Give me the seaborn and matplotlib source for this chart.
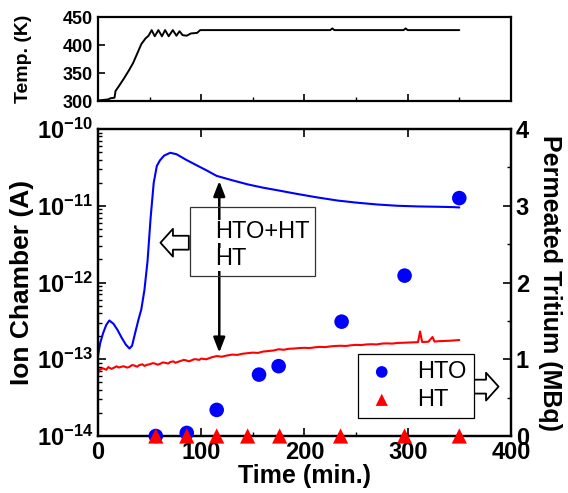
import numpy as np
import pandas as pd
import seaborn as sns
import matplotlib.pyplot as plt
from matplotlib.patches import Rectangle
from matplotlib.ticker import LogLocator, MultipleLocator, FuncFormatter, NullFormatter

# temperature trace (top panel)
temp_time = [0, 5, 10, 12, 16, 17, 20, 25, 30, 34, 38, 42, 46, 49, 52, 55, 58.5, 62, 65,
             68.5, 72.5, 76, 79, 82, 86, 90, 96, 99, 150, 225, 227, 229, 296, 298, 300, 350]
temp_k = [301, 302, 303, 305, 306, 318, 326, 340, 355, 368, 385, 402, 412, 417, 427, 416, 427,
          416, 427, 416, 427, 417, 425, 418, 417, 421, 422, 427, 427, 427, 430, 427, 427, 430, 427, 427]

# ion chamber HTO+HT (blue)
blue_time = [0, 2, 5, 8, 11, 15, 19, 23, 27, 30.5, 33, 36, 39, 42, 45, 48, 51, 54, 57, 60, 64,
             70, 76, 85, 95, 105, 115, 130, 145, 160, 173, 190, 210, 232, 250, 270, 290, 310,
             330, 345, 350]
blue_ion = [1.1e-13, 1.6e-13, 2.2e-13, 2.8e-13, 3.2e-13, 2.9e-13, 2.4e-13, 1.9e-13, 1.55e-13,
            1.38e-13, 1.5e-13, 2.2e-13, 3.2e-13, 4.5e-13, 8e-13, 1.9e-12, 7e-12, 2.0e-11, 3.3e-11,
            3.9e-11, 4.5e-11, 4.9e-11, 4.7e-11, 4.0e-11, 3.4e-11, 2.9e-11, 2.45e-11, 2.15e-11,
            1.9e-11, 1.72e-11, 1.6e-11, 1.45e-11, 1.3e-11, 1.17e-11, 1.1e-11, 1.04e-11, 1.0e-11,
            9.8e-12, 9.7e-12, 9.6e-12, 9.5e-12]

# ion chamber HT (red)
red_time = [0, 2, 5, 8, 10, 13, 15, 18, 20, 23, 25, 28, 30, 33, 35, 38, 40, 43, 45, 48, 50,
            53, 55, 58, 60, 63, 65, 68, 70, 73, 75, 78, 80, 83, 85, 88, 90, 93, 95, 98, 100,
            105, 110, 115, 120, 125, 130, 135, 140, 145, 150, 155, 160, 165, 170, 175, 180,
            185, 190, 195, 200, 205, 210, 215, 220, 225, 230, 235, 240, 245, 250, 255, 260, 265,
            270, 275, 280, 285, 290, 295, 300, 305, 310, 312, 314, 320, 324, 326, 330, 335, 340,
            345, 350]
red_ion = [6.6e-14, 7.4e-14, 7.6e-14, 7.3e-14, 7.9e-14, 7.5e-14, 7.7e-14, 8.1e-14, 7.8e-14,
           8.0e-14, 8.1e-14, 7.8e-14, 7.9e-14, 8.4e-14, 8.3e-14, 8.0e-14, 8.4e-14, 8.6e-14,
           8.2e-14, 8.5e-14, 8.6e-14, 8.9e-14, 8.8e-14, 8.5e-14, 8.7e-14, 9.1e-14, 9.0e-14,
           8.8e-14, 9.2e-14, 9.4e-14, 9.0e-14, 9.3e-14, 9.5e-14, 9.8e-14, 9.7e-14, 9.4e-14,
           9.6e-14, 1.0e-13, 1.0e-13, 9.8e-14, 1.02e-13,
           1.0e-13, 1.06e-13, 1.1e-13, 1.08e-13, 1.12e-13,
           1.15e-13, 1.14e-13, 1.18e-13, 1.2e-13, 1.22e-13, 1.21e-13, 1.26e-13, 1.28e-13, 1.3e-13,
           1.35e-13, 1.33e-13, 1.37e-13, 1.38e-13, 1.4e-13, 1.41e-13, 1.4e-13, 1.43e-13, 1.45e-13,
           1.44e-13, 1.47e-13, 1.49e-13, 1.5e-13, 1.49e-13, 1.52e-13, 1.54e-13, 1.53e-13, 1.56e-13,
           1.57e-13, 1.56e-13, 1.6e-13, 1.61e-13, 1.6e-13, 1.63e-13, 1.64e-13, 1.65e-13, 1.66e-13,
           1.67e-13, 2.3e-13, 1.68e-13, 1.69e-13, 1.95e-13, 1.7e-13, 1.72e-13, 1.73e-13, 1.74e-13,
           1.76e-13, 1.78e-13]

# permeated tritium (MBq)
hto_time = [56, 86, 115, 156, 175, 236, 297, 350]
hto_mbq = [0.0, 0.04, 0.34, 0.8, 0.91, 1.49, 2.09, 3.1]
ht_time = [56, 86, 115, 145, 176, 235, 297, 350]
ht_mbq = [0, 0, 0, 0, 0, 0, 0, 0]

sns.set_style('ticks')
plt.rcParams['font.family'] = ['Liberation Sans', 'DejaVu Sans']
plt.rcParams['mathtext.fontset'] = 'custom'
plt.rcParams['mathtext.rm'] = 'Liberation Sans'
plt.rcParams['mathtext.bf'] = 'Liberation Sans:bold'
for key in ('text.color', 'axes.labelcolor', 'xtick.color', 'ytick.color', 'axes.edgecolor'):
    plt.rcParams[key] = 'black'

fig = plt.figure(figsize=(5.68, 4.93), dpi=100)
ax_t = fig.add_axes([0.1725, 0.795, 0.727, 0.170])
ax = fig.add_axes([0.1725, 0.1156, 0.727, 0.6227])

spine_w = 1.6
for a in (ax_t, ax):
    for s in a.spines.values():
        s.set_linewidth(spine_w)
        s.set_visible(True)

# --- top panel: temperature
sns.lineplot(x=temp_time, y=temp_k, ax=ax_t, color='black', lw=1.4)
ax_t.set_xlim(0, 400)
ax_t.set_ylim(300, 450)
ax_t.xaxis.set_major_locator(MultipleLocator(100))
ax_t.xaxis.set_minor_locator(MultipleLocator(50))
ax_t.set_xticklabels([])
ax_t.yaxis.set_major_locator(MultipleLocator(50))
ax_t.tick_params(which='major', direction='in', length=5, width=1.2, labelsize=13)
ax_t.tick_params(which='minor', direction='in', length=3, width=1.0)
for lab in ax_t.get_yticklabels():
    lab.set_fontweight('bold')
ax_t.set_ylabel('Temp. (K)', fontsize=14, fontweight='bold', labelpad=22)

# --- main panel: ion chamber
df_blue = pd.DataFrame({'t': blue_time, 'I': blue_ion})
df_red = pd.DataFrame({'t': red_time, 'I': red_ion})
sns.lineplot(data=df_blue, x='t', y='I', ax=ax, color='#0000ff', lw=1.5)
sns.lineplot(data=df_red, x='t', y='I', ax=ax, color='#ff0000', lw=1.5)
ax.set_yscale('log')
ax.set_xlim(0, 400)
ax.set_ylim(1e-14, 1e-10)
ax.xaxis.set_major_locator(MultipleLocator(100))
ax.xaxis.set_minor_locator(MultipleLocator(50))
ax.yaxis.set_major_locator(LogLocator(base=10, numticks=10))
ax.yaxis.set_minor_locator(LogLocator(base=10, subs=np.arange(2, 10), numticks=20))
ax.yaxis.set_minor_formatter(NullFormatter())
ax.yaxis.set_major_formatter(FuncFormatter(
    lambda v, p: r'$\mathbf{10^{%d}}$' % int(round(np.log10(v)))))
ax.tick_params(which='major', direction='in', length=6, width=1.2, labelsize=17,
               top=True, right=False)
ax.tick_params(which='minor', direction='in', length=3, width=1.0, top=False)
for lab in ax.get_xticklabels():
    lab.set_fontweight('bold')
ax.set_xlabel('Time (min.)', fontsize=18, fontweight='bold', labelpad=0)
ax.set_ylabel('Ion Chamber (A)', fontsize=19, fontweight='bold', labelpad=2)

# annotations
ax.annotate('', xy=(117.5, 2.1e-11), xytext=(117.5, 1.22e-13),
            arrowprops=dict(arrowstyle='<|-|>,head_length=0.9,head_width=0.35',
                            color='black', lw=1.8, shrinkA=0, shrinkB=0))
ax.add_patch(Rectangle((89.5, 1.2e-12), 121, 8.3e-12, fill=False, ec='#333333', lw=0.9, zorder=3))
ax.text(113, 4.6e-12, 'HTO+HT', fontsize=17, va='center', ha='left', zorder=4,
        bbox=dict(fc='white', ec='none', pad=0.5))
ax.text(113, 2.0e-12, 'HT', fontsize=17, va='center', ha='left', zorder=4,
        bbox=dict(fc='white', ec='none', pad=0.5))
hollow = dict(arrowstyle='simple,head_length=9,head_width=20,tail_width=10',
              fc='white', ec='black', lw=1.3, mutation_scale=1, shrinkA=0, shrinkB=0)
ax.annotate('', xy=(60.5, 3.3e-12), xytext=(88, 3.3e-12), arrowprops=hollow)
ax.annotate('', xy=(388, 4.4e-14), xytext=(360, 4.4e-14), arrowprops=hollow, zorder=5)

# --- right axis: permeated tritium
ax2 = ax.twinx()
for s in ax2.spines.values():
    s.set_linewidth(spine_w)
sns.scatterplot(x=hto_time, y=hto_mbq, ax=ax2, color='#0000ff', marker='o', s=110,
                edgecolor='none', label='HTO', clip_on=False, zorder=6)
sns.scatterplot(x=ht_time, y=ht_mbq, ax=ax2, color='#ff0000', marker='^', s=120,
                edgecolor='none', label='HT', clip_on=False, zorder=6)
ax2.set_ylim(0, 4)
ax2.yaxis.set_major_locator(MultipleLocator(1))
ax2.yaxis.set_minor_locator(MultipleLocator(0.5))
ax2.tick_params(which='major', direction='in', length=6, width=1.2, labelsize=17)
ax2.tick_params(which='minor', direction='in', length=3, width=1.0)
for lab in ax2.get_yticklabels():
    lab.set_fontweight('bold')
ax2.set_ylabel('Permeated Tritium (MBq)', fontsize=18, fontweight='bold',
               rotation=-90, labelpad=24)
leg = ax2.legend(loc='upper left', bbox_to_anchor=(0.63, 0.267), borderaxespad=0,
                 fontsize=17, frameon=True, fancybox=False, edgecolor='black', framealpha=1,
                 borderpad=0.3, handletextpad=0.8, labelspacing=0.25, handlelength=1.4,
                 markerscale=0.8)
leg.get_frame().set_linewidth(0.9)

fig.savefig('out.png', dpi=100)
